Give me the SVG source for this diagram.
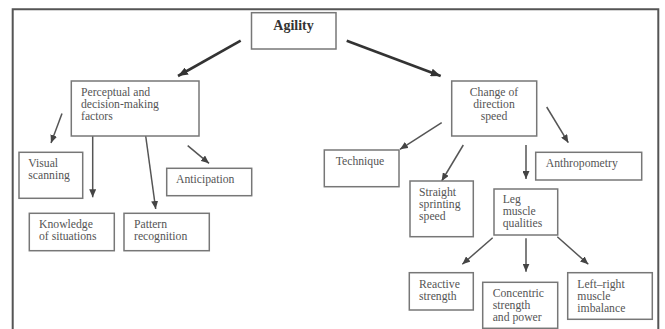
<svg xmlns="http://www.w3.org/2000/svg" width="665" height="329" viewBox="0 0 665 329">
<defs>
<marker id="ah" markerUnits="userSpaceOnUse" markerWidth="8" markerHeight="7" refX="8" refY="3.5" orient="auto"><path d="M0,0 L8,3.5 L0,7 z" fill="#444"/></marker>
<marker id="ahb" markerUnits="userSpaceOnUse" markerWidth="10" markerHeight="8" refX="10" refY="4" orient="auto"><path d="M0,0 L10,4 L0,8 z" fill="#333"/></marker>
<style>
.box{fill:#fff;stroke:#777;stroke-width:1.5}
.t{font-family:"Liberation Serif","Times New Roman",serif;font-size:11.7px;fill:#555}
.tb{font-family:"Liberation Serif","Times New Roman",serif;font-size:14px;font-weight:bold;fill:#333}
.c{stroke:#555;stroke-width:1.5;fill:none;marker-end:url(#ah)}
.cb{stroke:#333;stroke-width:2.6;fill:none;marker-end:url(#ahb)}
</style>
</defs>
<rect width="665" height="329" fill="#fff"/>
<path d="M12.7,329 V9.3 H658.3 V329" fill="none" stroke="#555" stroke-width="2"/>
<g id="connectors">
<line class="cb" x1="240.7" y1="40.7" x2="178" y2="76"/>
<line class="cb" x1="346.7" y1="40.7" x2="440.7" y2="76"/>
<line class="c" x1="62" y1="113.5" x2="51" y2="143"/>
<line class="c" x1="92.7" y1="136" x2="92.7" y2="197.3"/>
<line class="c" x1="145.7" y1="136" x2="155.7" y2="209"/>
<line class="c" x1="187.7" y1="145.7" x2="209" y2="163.3"/>
<line class="c" x1="441.7" y1="122.7" x2="400" y2="149.3"/>
<line class="c" x1="463.3" y1="145" x2="441.7" y2="181"/>
<line class="c" x1="526" y1="145" x2="526" y2="179"/>
<line class="c" x1="546.7" y1="107" x2="568.3" y2="142.7"/>
<line class="c" x1="492.7" y1="237.7" x2="462.3" y2="264.3"/>
<line class="c" x1="526" y1="238.3" x2="526" y2="271.7"/>
<line class="c" x1="557.3" y1="236.7" x2="588.3" y2="264.3"/>
</g>
<g id="agility"><rect class="box" x="251.5" y="12.7" width="84.5" height="36.3"/><text class="tb" x="293.5" y="30" text-anchor="middle">Agility</text></g>
<g id="perceptual"><rect class="box" x="71.3" y="81" width="127.7" height="55"/>
<text class="t" x="81" y="96">Perceptual and</text><text class="t" x="81" y="108">decision-making</text><text class="t" x="81" y="120">factors</text></g>
<g id="change"><rect class="box" x="451.7" y="81" width="85" height="55"/>
<text class="t" x="494" y="96" text-anchor="middle">Change of</text><text class="t" x="494" y="108" text-anchor="middle">direction</text><text class="t" x="494" y="120" text-anchor="middle">speed</text></g>
<g id="visual"><rect class="box" x="19" y="152.3" width="63.7" height="46"/>
<text class="t" x="28.3" y="166.7">Visual</text><text class="t" x="28.3" y="179">scanning</text></g>
<g id="knowledge"><rect class="box" x="29.3" y="213.3" width="85" height="37.4"/>
<text class="t" x="39" y="228">Knowledge</text><text class="t" x="39" y="240">of situations</text></g>
<g id="pattern"><rect class="box" x="124" y="213.3" width="85.3" height="37.4"/>
<text class="t" x="134" y="228">Pattern</text><text class="t" x="134" y="240">recognition</text></g>
<g id="anticipation"><rect class="box" x="166.7" y="168.3" width="85" height="27.4"/>
<text class="t" x="176" y="183">Anticipation</text></g>
<g id="technique"><rect class="box" x="324.3" y="150" width="74.7" height="36.7"/>
<text class="t" x="335.7" y="165">Technique</text></g>
<g id="straight"><rect class="box" x="410" y="181" width="63.3" height="55.7"/>
<text class="t" x="419" y="195.5">Straight</text><text class="t" x="419" y="207.5">sprinting</text><text class="t" x="419" y="219.5">speed</text></g>
<g id="anthropometry"><rect class="box" x="535.7" y="152.3" width="106" height="27.7"/>
<text class="t" x="545.7" y="167.3">Anthropometry</text></g>
<g id="leg"><rect class="box" x="494" y="189" width="63.7" height="46"/>
<text class="t" x="502.7" y="203">Leg</text><text class="t" x="502.7" y="215">muscle</text><text class="t" x="502.7" y="227">qualities</text></g>
<g id="reactive"><rect class="box" x="409.3" y="272.7" width="64" height="37.3"/>
<text class="t" x="419" y="288">Reactive</text><text class="t" x="419" y="300">strength</text></g>
<g id="concentric"><rect class="box" x="482.7" y="282.3" width="75" height="46"/>
<text class="t" x="492.7" y="297.3">Concentric</text><text class="t" x="492.7" y="309.3">strength</text><text class="t" x="492.7" y="321.3">and power</text></g>
<g id="leftright"><rect class="box" x="567.7" y="272.7" width="84.6" height="46.6"/>
<text class="t" x="577.3" y="287.5">Left–right</text><text class="t" x="577.3" y="299.5">muscle</text><text class="t" x="577.3" y="311.5">imbalance</text></g>
</svg>
